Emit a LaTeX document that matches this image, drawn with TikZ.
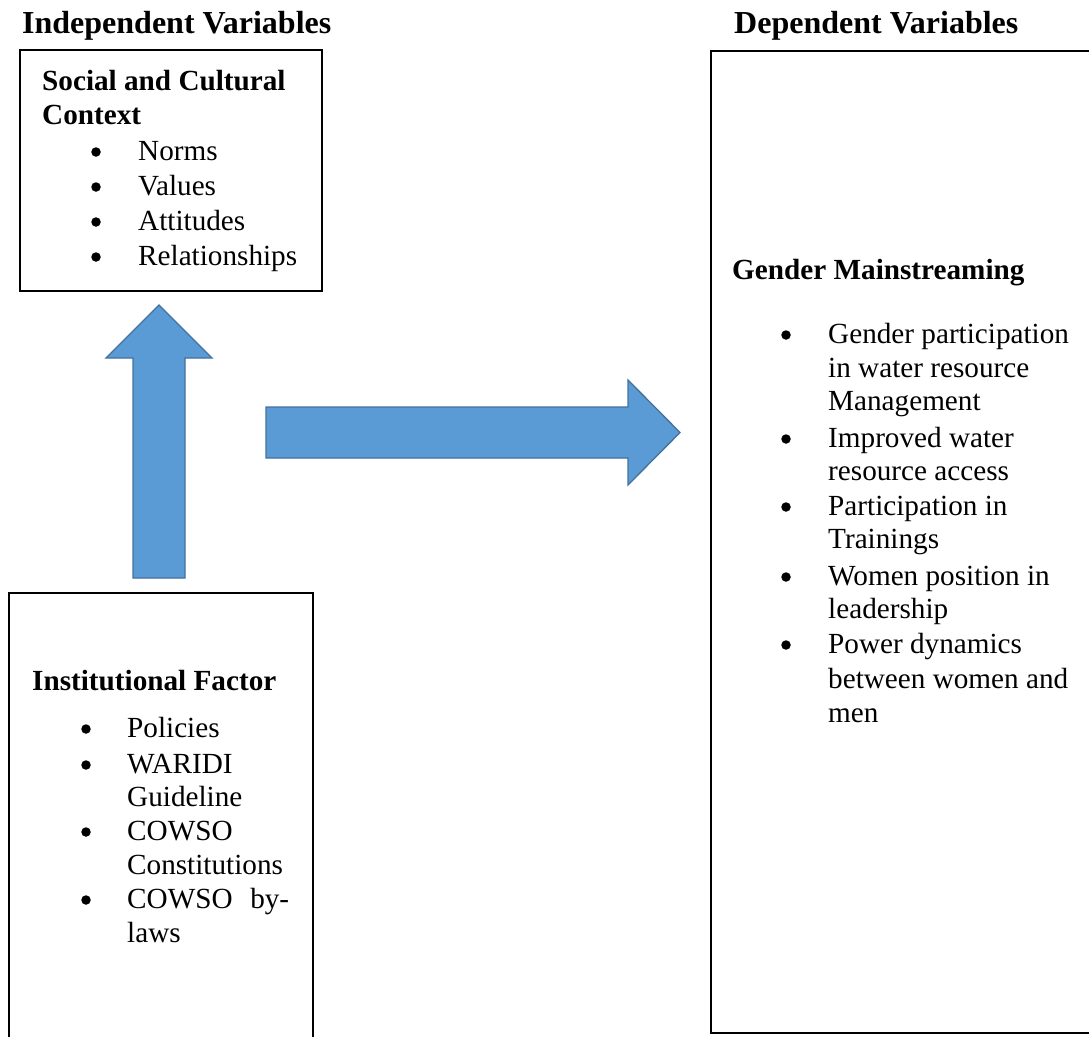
\documentclass[tikz,border=0pt]{standalone}
\usepackage{fontspec}
\setmainfont{Liberation Serif}
\definecolor{arrowblue}{HTML}{5B9BD5}
\definecolor{arrowedge}{HTML}{41719C}
\tikzset{
    box/.style={draw=black, line width=1.8pt, inner sep=0pt, outer sep=0pt, anchor=north west},
    blockarrow/.style={fill=arrowblue, draw=arrowedge, line width=1.3pt, line join=miter},
    txt/.style={anchor=base west, inner sep=0pt, font=\fontsize{29.2}{35}\selectfont},
    head/.style={txt, font=\fontsize{29.2}{35}\selectfont\bfseries},
    tophead/.style={txt, font=\fontsize{32}{35}\selectfont\bfseries},
    bul/.style={circle, fill=black, inner sep=0pt, minimum size=9.5pt}
}
\begin{document}
\begin{tikzpicture}[x=1pt, y=-1pt]
    \useasboundingbox (0,0) rectangle (1089,1036);
    \clip (0,0) rectangle (1089,1036);

    % boxes
    \node [box, minimum width=302pt, minimum height=241pt] (social) at (20,50) {};
    \node [box, minimum width=304pt, minimum height=455pt] (inst) at (9,593) {};
    \node [box, minimum width=400pt, minimum height=982pt] (gender) at (711,51) {};

    % headings
    \node [tophead] (indep) at (22,33) {Independent Variables};
    \node [tophead] (dep) at (734,33) {Dependent Variables};

    % social and cultural context
    \node [head] (socialtitle) at (42,90) {Social and Cultural};
    \node [head] (socialtitle2) at (42,124) {Context};
    \foreach \t [count=\i] in {Norms,Values,Attitudes,Relationships}
    {
        \node [bul] (sb\i) at (96,117+35*\i) {};
        \node [txt] (si\i) at (138,125+35*\i) {\t};
    }

    % institutional factor
    \node [head] (insttitle) at (32,690) {Institutional Factor};
    \foreach \y [count=\i] in {729,765,832,900}
        \node [bul] (ib\i) at (86,\y) {};
    \foreach \y/\t [count=\i] in {737/Policies, 773/WARIDI, 806/Guideline,
        840/COWSO, 874/Constitutions, 908/{\makebox[162pt][s]{COWSO\hfill by-}}, 942/laws}
        \node [txt] (ii\i) at (127,\y) {\t};

    % gender mainstreaming
    \node [head] (gendertitle) at (732,279) {Gender Mainstreaming};
    \foreach \y [count=\i] in {335,439,507,577,645}
        \node [bul] (gb\i) at (786,\y) {};
    \foreach \y/\t [count=\i] in {343/Gender participation, 377/in water resource,
        410/Management, 447/Improved water, 480/resource access,
        515/Participation in, 548/Trainings, 585/Women position in,
        618/leadership, 653/Power dynamics, 688/between women and, 722/men}
        \node [txt] (gi\i) at (828,\y) {\t};

    % block arrows
    \draw [blockarrow] (133,578) -- (133,358) -- (106,358) -- (159,305)
        -- (212,358) -- (185,358) -- (185,578) -- cycle;
    \draw [blockarrow] (266,407) -- (628,407) -- (628,380) -- (680,432.5)
        -- (628,485) -- (628,458) -- (266,458) -- cycle;
\end{tikzpicture}
\end{document}
